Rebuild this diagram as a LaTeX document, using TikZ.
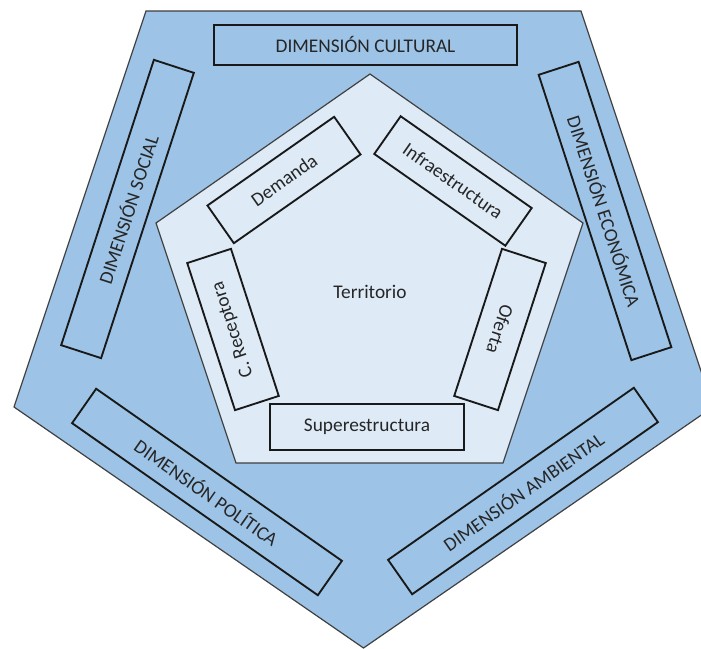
\documentclass[tikz,border=0pt]{standalone}
\usepackage{fontspec}
\setmainfont{Carlito}
\usepackage{tikz}

\definecolor{outerblue}{HTML}{9DC3E6}
\definecolor{innerblue}{HTML}{DEEBF7}
\definecolor{textgray}{HTML}{262626}

\tikzset{
    pentline/.style={draw=black!75, line width=0.9pt},
    dimbox/.style={draw=black!90, line width=1.4pt, text=textgray, inner sep=0pt,
        minimum width=225pt, minimum height=31.5pt,
        font=\fontsize{14.5}{17}\selectfont},
    subbox/.style={draw=black!90, line width=1.4pt, text=textgray, inner sep=0pt,
        minimum width=116pt, minimum height=34.5pt,
        font=\fontsize{14.5}{17}\selectfont},
    plaintext/.style={text=textgray, font=\fontsize{14.5}{17}\selectfont}
}

\begin{document}
\begin{tikzpicture}[x=0.75pt, y=-0.75pt]
\clip (0,0) rectangle (701,649);

% outer pentagon
\coordinate (O1) at (146,11);
\coordinate (O2) at (581,11);
\coordinate (O3) at (713,407);
\coordinate (O4) at (363.5,648);
\coordinate (O5) at (14,407);
\draw[pentline, fill=outerblue] (O1) -- (O2) -- (O3) -- (O4) -- (O5) -- cycle;

% inner pentagon
\coordinate (I1) at (370,74);
\coordinate (I2) at (583,223);
\coordinate (I3) at (503,463);
\coordinate (I4) at (236,463);
\coordinate (I5) at (156,223);
\draw[pentline, fill=innerblue] (I1) -- (I2) -- (I3) -- (I4) -- (I5) -- cycle;

\node[dimbox, minimum width=227pt, minimum height=30pt] (cultural) at (365.5,45) {DIMENSIÓN CULTURAL};
\node[dimbox, rotate=72] (social) at (127.5,209) {DIMENSIÓN SOCIAL};
\node[dimbox, rotate=-72] (economica) at (605,211) {DIMENSIÓN ECONÓMICA};
\node[dimbox, rotate=-35] (politica) at (207,492) {DIMENSIÓN POLÍTICA};
\node[dimbox, rotate=35] (ambiental) at (523,491) {DIMENSIÓN AMBIENTAL};

\node[subbox, rotate=35] (demanda) at (284,180) {Demanda};
\node[subbox, rotate=-35, minimum width=120pt] (infra) at (453,181) {Infraestructura};
\node[subbox, rotate=-108] (oferta) at (500,329.5) {Oferta};
\node[subbox, rotate=108] (receptora) at (233,329.5) {C. Receptora};
\node[subbox, minimum width=145.5pt] (super) at (367,427) {Superestructura};

\node[plaintext] (territorio) at (370,292) {Territorio};
\end{tikzpicture}
\end{document}
